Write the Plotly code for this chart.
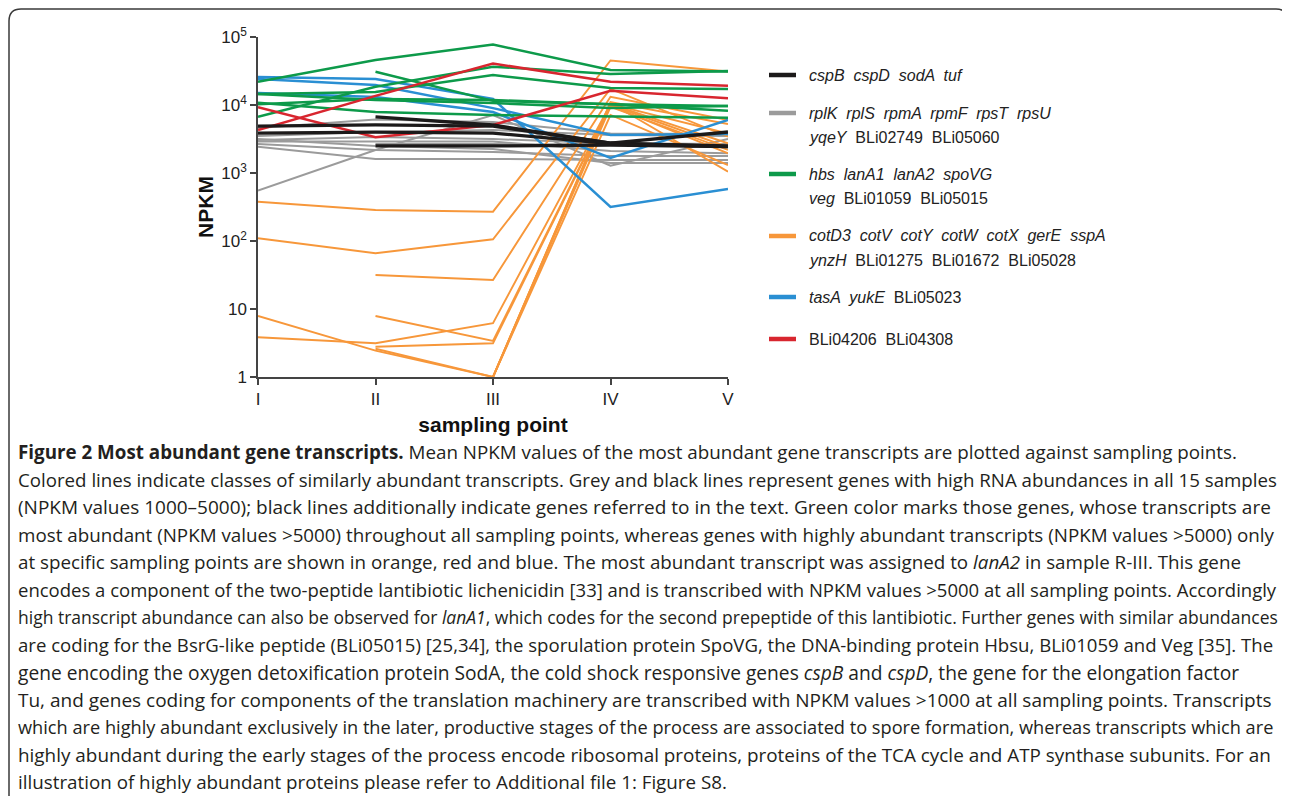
import plotly.graph_objects as go

# ---------------- data ----------------
sampling_points = ["I", "II", "III", "IV", "V"]
x_pos = [1, 2, 3, 4, 5]

black_series = [
    [None, 6700, 5080, 2760, 2440],
    [4900, 5100, 4900, 2760, 4010],
    [3870, 4000, 3870, 2700, 2500],
    [None, 2500, 2500, 2580, 2440],
]
grey_series = [
    [550, 2180, 7130, 1280, 3160],
    [4590, 6120, 5620, 3810, 3750],
    [3500, 4000, 4290, 3620, 3500],
    [3060, 3380, 3160, 2730, 2670],
    [2670, 2180, 2040, 1780, 1780],
    [2440, 1610, 1610, 1550, 1550],
    [None, 2670, 2670, 2580, 2500],
    [3160, 2500, 2250, 1400, 1400],
    [2900, 2900, 2900, 2100, 1950],
]
green_series = [
    [22000, 45900, 77600, 32700, 31100],
    [None, 30900, 11500, 10300, 9700],
    [6730, 18600, 36600, 28600, 31600],
    [14500, 15500, 27600, 17800, 17200],
    [10300, 12300, 11800, 10300, 8250],
    [14500, 11800, 10700, 9000, 9700],
    [10800, 7900, 7130, 6890, 6500],
]
orange_series = [
    [378, 286, 270, 45100, 31100],
    [110, 66, 106, 17200, 3420],
    [None, 31.6, 26.7, 13200, 6020],
    [7.9, 2.44, 1, 10700, 1045],
    [3.84, 3.13, 6.2, 10300, 2730],
    [None, 2.79, 3.13, 9700, 1950],
    [None, 7.9, 3.38, 10000, 2410],
    [None, 2.6, 1, 7130, 1310],
    [None, None, 1, 11000, 5260],
    [None, None, 1, 10300, 3810],
    [None, None, 1, 9350, 2180],
]
blue_series = [
    [25800, 24100, 12300, 316, 582],
    [24100, 19700, 9000, 3620, 3750],
    [15000, 13100, 7880, 1660, 6020],
]
red_series = [
    [4290, 13600, 40700, 22000, 19200],
    [9250, 3350, 5080, 16200, 12600],
]

legend_labels = [
    ["<i>cspB  cspD  sodA  tuf</i>"],
    ["<i>rplK  rplS  rpmA  rpmF  rpsT  rpsU</i>", "<i>yqeY</i>  BLi02749  BLi05060"],
    ["<i>hbs  lanA1  lanA2  spoVG</i>", "<i>veg</i>  BLi01059  BLi05015"],
    ["<i>cotD3  cotV  cotY  cotW  cotX  gerE  sspA</i>", "<i>ynzH</i>  BLi01275  BLi01672  BLi05028"],
    ["<i>tasA  yukE</i>  BLi05023"],
    ["BLi04206  BLi04308"],
]

y_tick_vals = [1, 10, 100, 1000, 10000, 100000]
y_tick_text = ["1", "10", "10<sup>2</sup>", "10<sup>3</sup>", "10<sup>4</sup>", "10<sup>5</sup>"]

caption_lines = [
    "<b>Figure 2 Most abundant gene transcripts.</b> Mean NPKM values of the most abundant gene transcripts are plotted against sampling points.",
    "Colored lines indicate classes of similarly abundant transcripts. Grey and black lines represent genes with high RNA abundances in all 15 samples",
    "(NPKM values 1000–5000); black lines additionally indicate genes referred to in the text. Green color marks those genes, whose transcripts are",
    "most abundant (NPKM values >5000) throughout all sampling points, whereas genes with highly abundant transcripts (NPKM values >5000) only",
    "at specific sampling points are shown in orange, red and blue. The most abundant transcript was assigned to <i>lanA2</i> in sample R-III. This gene",
    "encodes a component of the two-peptide lantibiotic lichenicidin [33] and is transcribed with NPKM values >5000 at all sampling points. Accordingly",
    "high transcript abundance can also be observed for <i>lanA1</i>, which codes for the second prepeptide of this lantibiotic. Further genes with similar abundances",
    "are coding for the BsrG-like peptide (BLi05015) [25,34], the sporulation protein SpoVG, the DNA-binding protein Hbsu, BLi01059 and Veg [35]. The",
    "gene encoding the oxygen detoxification protein SodA, the cold shock responsive genes <i>cspB</i> and <i>cspD</i>, the gene for the elongation factor",
    "Tu, and genes coding for components of the translation machinery are transcribed with NPKM values >1000 at all sampling points. Transcripts",
    "which are highly abundant exclusively in the later, productive stages of the process are associated to spore formation, whereas transcripts which are",
    "highly abundant during the early stages of the process encode ribosomal proteins, proteins of the TCA cycle and ATP synthase subunits. For an",
    "illustration of highly abundant proteins please refer to Additional file 1: Figure S8.",
]
# font size per caption line (emulates the justified setting of the original)
caption_sizes = [18.8, 18.7, 19.0, 18.8, 18.8, 18.5, 17.5, 18.6, 19.2, 19.0, 18.2, 18.9, 18.8]

# ---------------- styles ----------------
BLACK = "#1c1a1a"
GREY = "#9b9b9b"
GREEN = "#0d9a4a"
ORANGE = "#f7973a"
BLUE = "#2a8fd3"
RED = "#d8262f"

OFF = 8  # page body margin of the html page
W, H = 1290 - OFF, 796 - OFF
L, R, T, B = 258 - OFF, 728 - OFF, 37 - OFF, 377 - OFF  # plot area in pixels


def px(xp):
    return (xp - OFF - L) / (R - L)


def py(yp):
    return (B - (yp - OFF)) / (B - T)


fig = go.Figure()

groups = [
    (grey_series, GREY, 2.0),
    (orange_series, ORANGE, 1.9),
    (blue_series, BLUE, 2.5),
    (green_series, GREEN, 2.5),
    (red_series, RED, 2.5),
    (black_series, BLACK, 3.3),
]
for series, color, width in groups:
    for vals in series:
        fig.add_trace(go.Scatter(
            x=x_pos, y=vals, mode="lines",
            line=dict(color=color, width=width),
            connectgaps=False, showlegend=False, hoverinfo="skip",
        ))

axis_font = dict(family="Liberation Sans, Arial, sans-serif", size=17, color="#222")

fig.update_xaxes(
    range=[1, 5], tickvals=x_pos, ticktext=sampling_points,
    showline=True, linecolor="#444", linewidth=1.5,
    ticks="outside", ticklen=6, tickcolor="#444", tickwidth=1.5,
    showgrid=False, zeroline=False, tickfont=axis_font,
    title=dict(text="<b>sampling point</b>", font=dict(family="Liberation Sans, Arial, sans-serif", size=21, color="#111"), standoff=9),
)
fig.update_yaxes(
    type="log", range=[0, 5], tickvals=y_tick_vals, ticktext=y_tick_text,
    showline=True, linecolor="#444", linewidth=1.5,
    ticks="outside", ticklen=6, tickcolor="#444", tickwidth=1.5,
    showgrid=False, zeroline=False, tickfont=axis_font,
    title=dict(text="<b>NPKM</b>", font=dict(family="Liberation Sans, Arial, sans-serif", size=21, color="#111"), standoff=2),
)

shapes = []
annotations = []

# legend
legend_colors = [BLACK, GREY, GREEN, ORANGE, BLUE, RED]
legend_y = [75, 113, 174, 236, 297, 339]
line_gap = 24.5
for labels, color, yy in zip(legend_labels, legend_colors, legend_y):
    shapes.append(dict(type="line", xref="paper", yref="paper",
                       x0=px(769), x1=px(796), y0=py(yy), y1=py(yy),
                       line=dict(color=color, width=4.5)))
    for k, lab in enumerate(labels):
        annotations.append(dict(
            xref="paper", yref="paper", x=px(807), y=py(yy + k * line_gap),
            xanchor="left", yanchor="middle", showarrow=False, text=lab,
            font=dict(family="Liberation Sans, Arial, sans-serif", size=16, color="#222"),
        ))

# caption
cap_y0, cap_dy = 452, 27.5
for k, (line, size) in enumerate(zip(caption_lines, caption_sizes)):
    annotations.append(dict(
        xref="paper", yref="paper", x=px(16), y=py(cap_y0 + k * cap_dy),
        xanchor="left", yanchor="middle", showarrow=False, text=line,
        font=dict(family="Open Sans, sans-serif", size=size, color="#231f20"),
    ))

# frame with rounded top corners
r = 12
xl, xr, yt = 9, 1288, 9
path = (f"M {px(xl)},{py(830)} L {px(xl)},{py(yt + r)} "
        f"Q {px(xl)},{py(yt)} {px(xl + r)},{py(yt)} "
        f"L {px(xr - r)},{py(yt)} Q {px(xr)},{py(yt)} {px(xr)},{py(yt + r)} "
        f"L {px(xr)},{py(830)}")
shapes.append(dict(type="path", xref="paper", yref="paper", path=path,
                   line=dict(color="#3a3a3a", width=1.5)))

fig.update_layout(
    width=W, height=H,
    margin=dict(l=L, r=W - R, t=T, b=H - B, autoexpand=False),
    paper_bgcolor="white", plot_bgcolor="white",
    showlegend=False, shapes=shapes, annotations=annotations,
)

fig.write_html("out.html")
